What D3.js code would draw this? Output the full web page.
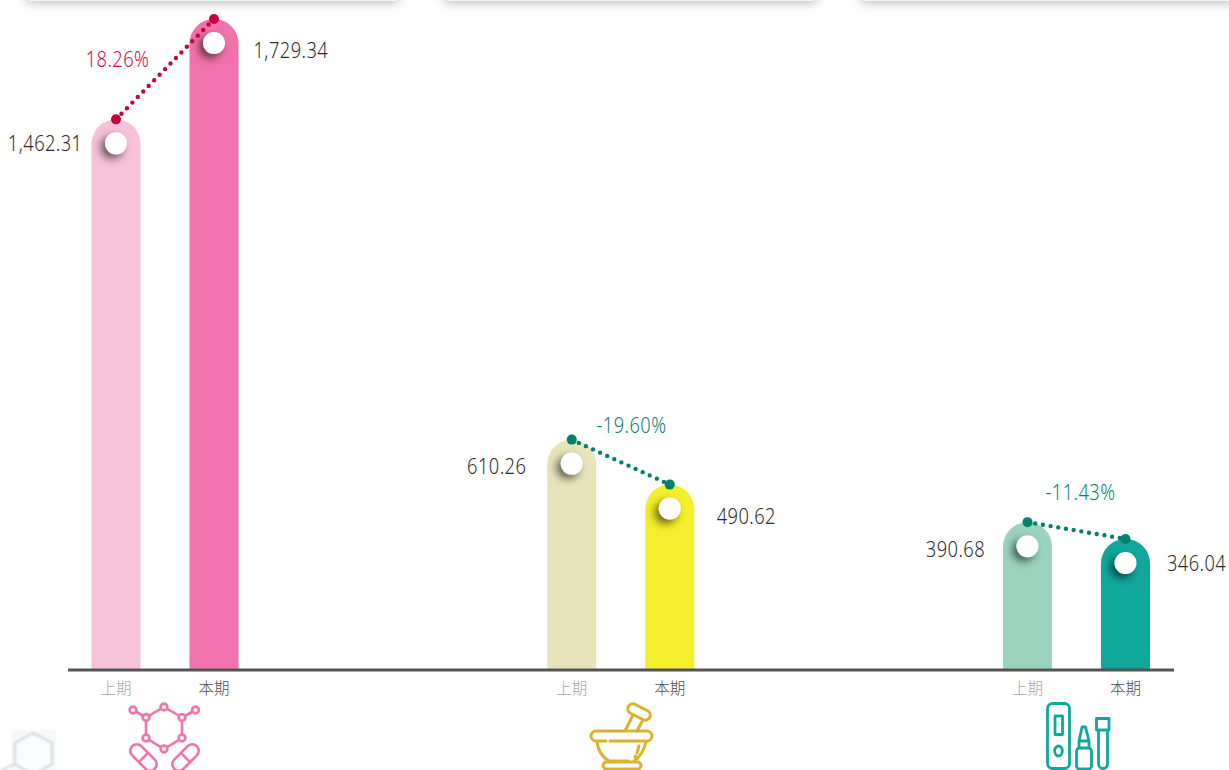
<!DOCTYPE html>
<html>
<head>
<meta charset="utf-8">
<script src="https://cdn.jsdelivr.net/npm/d3@7"></script>
<style>
html, body { margin: 0; padding: 0; background: #fff; overflow: hidden; }
svg { display: block; }
text { font-family: "Noto Sans", sans-serif; font-weight: 300; }
.period { font-family: "Noto Sans CJK SC", sans-serif; font-weight: 300; }
</style>
</head>
<body>
<svg></svg>
<script>
const categories = ["drug", "herb", "test"];
const periods = ["上期", "本期"];
const previousValues = [1462.31, 610.26, 390.68];
const currentValues = [1729.34, 490.62, 346.04];
const changeRates = [18.26, -19.60, -11.43];

const width = 1229;
const height = 770;
const marginTop = 19;
const baseline = 669;
const barWidth = 49;

// per category styling
const prevColors = ["#f6c2da", "#e8e3bb", "#9bd3bf"];
const currColors = ["#f272ab", "#f5ee2c", "#10a89b"];
const lineColors = ["#c8003c", "#00806f", "#00806f"];
const rateColors = ["#c8104e", "#0b7f76", "#0b7f76"];
// label placement relative to the bars
const prevGaps = [9, 21, 18];
const currGaps = [15, 22.5, 17];
const prevDrops = [24, 27, 27];
const currDrops = [32, 32, 25];
const rateX = [117.5, 631.5, 1080.5];
const rateY = [60, 426, 493];

const svg = d3.select("svg")
    .attr("width", width)
    .attr("height", height)
    .attr("viewBox", [0, 0, width, height]);

const defs = svg.append("defs");

defs.append("filter").attr("id", "knobShadow")
    .attr("x", "-100%").attr("y", "-100%").attr("width", "300%").attr("height", "300%")
    .append("feDropShadow")
    .attr("dx", -4).attr("dy", 4).attr("stdDeviation", 4)
    .attr("flood-color", "#000").attr("flood-opacity", 0.6);

defs.append("filter").attr("id", "cardShadow")
    .attr("x", "-5%").attr("y", "-100%").attr("width", "110%").attr("height", "300%")
    .append("feDropShadow")
    .attr("dx", 0).attr("dy", 3).attr("stdDeviation", 5)
    .attr("flood-color", "#000").attr("flood-opacity", 0.24);

defs.append("filter").attr("id", "soft")
    .attr("x", "-20%").attr("y", "-20%").attr("width", "140%").attr("height", "140%")
    .append("feGaussianBlur").attr("stdDeviation", 1);

// Scales
const x = d3.scalePoint(categories, [165, 1076.5]);
const xInner = d3.scaleBand(periods, [-73.5, 73.5]).paddingInner(0.5);
const y = d3.scaleLinear([0, d3.max(currentValues)], [baseline, marginTop]);

const barCenter = (i, p) => x(categories[i]) + xInner(p) + xInner.bandwidth() / 2;

const barPath = (i, p, v) => {
    const l = barCenter(i, p) - barWidth / 2;
    const r = barWidth / 2;
    const path = d3.path();
    path.moveTo(l, baseline);
    path.lineTo(l, y(v) + r);
    path.arc(l + r, y(v) + r, r, Math.PI, 0);
    path.lineTo(l + barWidth, baseline);
    path.closePath();
    return path.toString();
};

// squeeze Noto Sans to the narrower face used in the original
const label = (g, px, py, anchor, fill, str) => g.append("text")
    .attr("transform", `translate(${px},${py}) scale(0.87,1)`)
    .attr("dy", "0.35em")
    .attr("text-anchor", anchor)
    .attr("font-size", 21)
    .attr("letter-spacing", 0.5)
    .attr("fill", fill)
    .text(str);

// Cards peeking in from the top
svg.append("g").selectAll("rect")
    .data([[25, 375], [443, 375], [860, 375]])
    .join("rect")
    .attr("x", d => d[0])
    .attr("y", -30)
    .attr("width", d => d[1])
    .attr("height", 30.5)
    .attr("rx", 6)
    .attr("fill", "#fff")
    .attr("filter", "url(#cardShadow)");

const fmt = d3.format(",.2f");

categories.forEach((c, i) => {
    const prev = previousValues[i];
    const curr = currentValues[i];
    const g = svg.append("g");

    g.append("path").attr("d", barPath(i, periods[0], prev)).attr("fill", prevColors[i]);
    g.append("path").attr("d", barPath(i, periods[1], curr)).attr("fill", currColors[i]);

    // White knobs
    [[periods[0], prev], [periods[1], curr]].forEach(([p, v]) => {
        g.append("circle")
            .attr("cx", barCenter(i, p))
            .attr("cy", y(v) + 24)
            .attr("r", 11)
            .attr("fill", "#fff")
            .attr("filter", "url(#knobShadow)");
    });

    // Dotted change line
    const x0 = barCenter(i, periods[0]);
    const x1 = barCenter(i, periods[1]);
    g.append("line")
        .attr("x1", x0).attr("y1", y(prev))
        .attr("x2", x1).attr("y2", y(curr))
        .attr("stroke", lineColors[i])
        .attr("stroke-width", 4.4)
        .attr("stroke-linecap", "round")
        .attr("stroke-dasharray", "0 7.8");
    [[x0, y(prev)], [x1, y(curr)]].forEach(d => {
        g.append("circle").attr("cx", d[0]).attr("cy", d[1]).attr("r", 5).attr("fill", lineColors[i]);
    });

    // Value labels: previous sits left of its bar, current right
    label(g, x0 - barWidth / 2 - prevGaps[i], y(prev) + prevDrops[i], "end", "#2b2b2b", fmt(prev));
    label(g, x1 + barWidth / 2 + currGaps[i], y(curr) + currDrops[i], "start", "#2b2b2b", fmt(curr));

    // Change rate
    label(g, rateX[i], rateY[i], "middle", rateColors[i], changeRates[i].toFixed(2) + "%");

    // Period labels
    periods.forEach((p, j) => {
        g.append("text")
            .attr("class", "period")
            .attr("x", barCenter(i, p))
            .attr("y", 689)
            .attr("dy", "0.35em")
            .attr("text-anchor", "middle")
            .attr("font-size", 15.5)
            .attr("fill", j == 0 ? "#a8a8a8" : "#4d4d4d")
            .text(p);
    });
});

// Baseline
svg.append("line")
    .attr("x1", 68).attr("x2", 1174)
    .attr("y1", 670).attr("y2", 670)
    .attr("stroke", "#555")
    .attr("stroke-width", 3);

// Molecule + capsules icon
const pink = svg.append("g")
    .attr("fill", "#fff").attr("stroke", "#f272ab").attr("stroke-width", 2.6);
const hex = [[164, 707], [182, 717.5], [182, 738], [164, 749], [146, 738], [146, 717.5]];
pink.append("path").attr("fill", "none").attr("d", d3.line()(hex) + "Z M146 717.5L133 710 M182 717.5L195.5 710");
[...hex, [133, 710], [195.5, 710]].forEach(d => {
    pink.append("circle").attr("cx", d[0]).attr("cy", d[1]).attr("r", 3.4);
});
[[143.5, 757.5, 45], [185.5, 757.5, -45]].forEach(d => {
    const cap = pink.append("g").attr("transform", `translate(${d[0]},${d[1]}) rotate(${d[2]})`);
    cap.append("rect").attr("x", -16).attr("y", -6.5).attr("width", 32).attr("height", 13).attr("rx", 6.5).attr("fill", "none");
    cap.append("line").attr("x1", 0).attr("x2", 0).attr("y1", -6.5).attr("y2", 6.5);
});

// Mortar icon
const mortar = svg.append("g")
    .attr("fill", "none").attr("stroke", "#d9b32c").attr("stroke-width", 3)
    .attr("stroke-linecap", "round").attr("stroke-linejoin", "round");
mortar.append("path").attr("d", "M625 731L634 713 M637 731L645 716");
mortar.append("rect").attr("x", 627).attr("y", 707).attr("width", 24).attr("height", 10).attr("rx", 5)
    .attr("transform", "rotate(27 639 712)").attr("fill", "#fff");
mortar.append("path").attr("d", "M596 731H647A5 5 0 0 1 647 741H610 M606 741H596A5 5 0 0 1 596 731");
mortar.append("path").attr("d", "M597 742C598 750 602 757 609 761H628 M634 761C640 757 644 750 646 742");
mortar.append("path").attr("d", "M639 746L637 753 M635.5 756L635 757");
mortar.append("rect").attr("x", 603).attr("y", 762).attr("width", 38).attr("height", 7).attr("rx", 3.5);

// Test kit icon
const kit = svg.append("g")
    .attr("fill", "none").attr("stroke", "#10a89b").attr("stroke-width", 2.8)
    .attr("stroke-linejoin", "round");
kit.append("rect").attr("x", 1047.5).attr("y", 703.5).attr("width", 22).attr("height", 65).attr("rx", 5);
kit.append("rect").attr("x", 1055).attr("y", 716).attr("width", 7.5).attr("height", 18.5);
kit.append("ellipse").attr("cx", 1058.5).attr("cy", 751).attr("rx", 3.8).attr("ry", 5);
kit.append("rect").attr("x", 1076.5).attr("y", 748).attr("width", 15).attr("height", 21).attr("rx", 3);
kit.append("path").attr("d", "M1079 748V741L1082 727H1085.5L1089 741V748 M1079 741H1089");
kit.append("path").attr("d", "M1098.5 730V764A4.5 4.5 0 0 0 1107.5 764V730");
kit.append("rect").attr("x", 1096.5).attr("y", 718.5).attr("width", 12.5).attr("height", 11.5);

// Faint hexagon watermark, bottom left
const mark = svg.append("g").attr("filter", "url(#soft)");
mark.append("rect").attr("x", 11).attr("y", 730).attr("width", 45).attr("height", 42).attr("fill", "#f6f8fa");
mark.append("path")
    .attr("d", "M33 733L52 743L52 764L33 775L15 764L15 743Z M15 764L0 771")
    .attr("fill", "#fbfcfd")
    .attr("stroke", "#d3d6d8")
    .attr("stroke-width", 2.2);
</script>
</body>
</html>
